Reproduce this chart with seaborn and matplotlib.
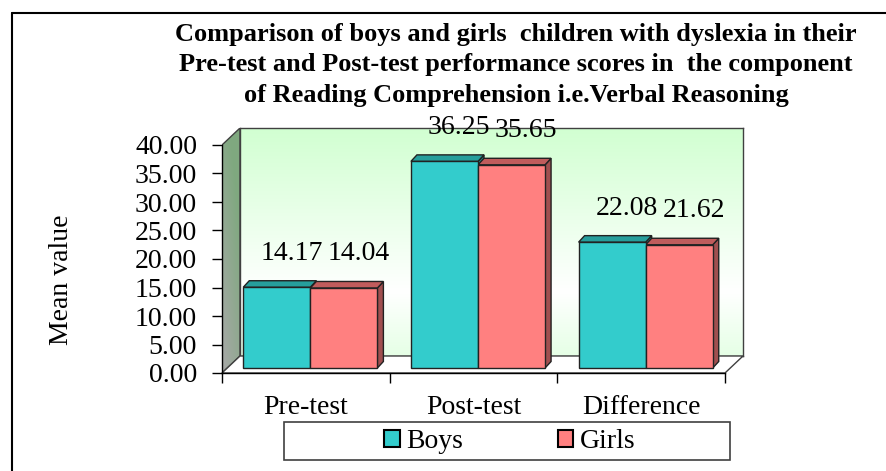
import numpy as np
import pandas as pd
import matplotlib
matplotlib.use("Agg")
import matplotlib.pyplot as plt
import seaborn as sns
from matplotlib.patches import Polygon, Rectangle, Patch
from matplotlib.lines import Line2D
from matplotlib.transforms import ScaledTranslation

# data
categories = ["Pre-test", "Post-test", "Difference"]
groups = ["Boys", "Girls"]
boys = [14.17, 36.25, 22.08]
girls = [14.04, 35.65, 21.62]
y_ticks = [0, 5, 10, 15, 20, 25, 30, 35, 40]

title = ("Comparison of boys and girls  children with dyslexia in their\n"
         "Pre-test and Post-test performance scores in  the component\n"
         "of Reading Comprehension i.e.Verbal Reasoning")

colors = {"Boys": "#33cccc", "Girls": "#ff8080"}
top_colors = {"Boys": "#269e9c", "Girls": "#c05c5c"}
side_colors = {"Boys": "#1f8886", "Girls": "#a04f4f"}

df = pd.DataFrame({
    "Test": categories * 2,
    "Group": ["Boys"] * len(boys) + ["Girls"] * len(girls),
    "Mean": boys + girls,
})

W, H = 887, 471
sns.set_theme(style="white")
plt.rcParams["font.family"] = ["Liberation Serif", "DejaVu Serif"]
plt.rcParams["text.color"] = "black"

fig = plt.figure(figsize=(W / 100, H / 100), dpi=100)


def fx(x):
    return x / W


def fy(y):
    return 1 - y / H


# front plane of the plot area (pixels) and wall depth
X0, X1, Y0, Y1 = 222, 725, 373, 145
DX, DY = 18, 17

# left wall
ax_left = fig.add_axes([fx(X0), fy(Y0), fx(DX), (Y0 - Y1 + DY) / H])
ax_left.set_axis_off()
u = np.linspace(0, 1, 20)[None, :]
v = np.linspace(1, 0, 200)[:, None]
t = np.clip(v * 0.8 + u * 0.5, 0, 1)[..., None]
gray = np.array([0.66, 0.66, 0.66])
green = np.array([0.50, 0.66, 0.50])
img = gray * (1 - t) + green * t
poly_left = Polygon([(0, 0), (0, (Y0 - Y1) / (Y0 - Y1 + DY)), (1, 1),
                     (1, DY / (Y0 - Y1 + DY))], closed=True,
                    transform=ax_left.transAxes, fill=False,
                    ec="#404040", lw=1)
im = ax_left.imshow(img, aspect="auto", extent=[0, 1, 0, 1])
im.set_clip_path(poly_left)
ax_left.add_patch(poly_left)

# back wall
ax_back = fig.add_axes([fx(X0 + DX), fy(Y0 - DY), fx(X1 - X0), (Y0 - Y1) / H])
grad_pos = np.linspace(0, 1, 200)[:, None]
light = np.array([0.82, 1.0, 0.82])
white = np.array([1.0, 1.0, 1.0])
w_mix = np.interp(grad_pos, [0, 0.72, 1], [0, 1, 0.45])[..., None]
back_img = light * (1 - w_mix) + white * w_mix
ax_back.imshow(back_img, aspect="auto", extent=[0, 1, 0, 1])
ax_back.set_xticks([])
ax_back.set_yticks([])
for s in ax_back.spines.values():
    s.set_color("#404040")
    s.set_linewidth(1)

# floor
floor = Polygon([(fx(X0), fy(Y0)), (fx(X1), fy(Y0)), (fx(X1 + DX), fy(Y0 - DY)),
                 (fx(X0 + DX), fy(Y0 - DY))], closed=True,
                transform=fig.transFigure, fc="white", ec="#404040", lw=1,
                clip_on=False, zorder=5)
ax_back.add_patch(floor)

# main axes (front plane)
ax = fig.add_axes([fx(X0), fy(Y0), fx(X1 - X0), (Y0 - Y1) / H])
ax.set_facecolor("none")
sns.barplot(data=df, x="Test", y="Mean", hue="Group", order=categories,
            hue_order=groups, palette=colors, width=0.8, saturation=1,
            edgecolor="#222222", linewidth=1, ax=ax, legend=False)
ax.set_xlim(-0.5, 2.5)
ax.set_ylim(0, 40)

# bars sit a little inside the depth of the floor
shift = ScaledTranslation(4.5 / 100, 5 / 100, fig.dpi_scale_trans)
trans = ax.transData + shift
ppx = (X1 - X0) / 3
ppy = (Y0 - Y1) / 40
ddx, ddy = 6 / ppx, 6.5 / ppy

for container, grp in zip(ax.containers, groups):
    for p in container.patches:
        p.set_transform(trans)
        p.set_clip_on(False)
        p.set_zorder(3)
        x, w, h = p.get_x(), p.get_width(), p.get_height()
        top = Polygon([(x, h), (x + w, h), (x + w + ddx, h + ddy), (x + ddx, h + ddy)],
                      closed=True, fc=top_colors[grp], ec="#222222", lw=1,
                      transform=trans, clip_on=False, zorder=2.5)
        side = Polygon([(x + w, 0), (x + w + ddx, ddy), (x + w + ddx, h + ddy), (x + w, h)],
                       closed=True, fc=side_colors[grp], ec="#222222", lw=1,
                       transform=trans, clip_on=False, zorder=2)
        ax.add_patch(side)
        ax.add_patch(top)
        ax.annotate(f"{h:.2f}", xy=(x + w / 2, h), xycoords=trans,
                    xytext=(10.5, 24.5), textcoords="offset points",
                    ha="center", va="center", fontsize=20, color="black")

ax.set_yticks(y_ticks)
ax.set_yticklabels([f"{t:.2f}" for t in y_ticks])
ax.set_xticks([-0.5, 0.5, 1.5, 2.5], minor=True)
ax.tick_params(axis="y", left=True, direction="out", length=7, width=1,
               color="black", pad=11, labelsize=20, labelcolor="black")
ax.tick_params(axis="x", which="major", length=0, pad=16, labelsize=20,
               labelcolor="black")
ax.tick_params(axis="x", which="minor", bottom=True, direction="out",
               length=7, width=1, color="black")
ax.set_xlabel("")
ax.set_ylabel("")
sns.despine(ax=ax, top=True, right=True)
for s in ["left", "bottom"]:
    ax.spines[s].set_color("black")
    ax.spines[s].set_linewidth(1)

fig.text(fx(62), fy(280), "Mean value", rotation=90, ha="center",
         va="center", fontsize=20)
fig.text(fx(516), fy(65), title, ha="center", va="center", fontsize=19,
         fontweight="bold", linespacing=1.42)

# legend
handles = [Patch(fc=colors[g], ec="black", lw=1.5) for g in groups]
fig.legend(handles, groups, loc="center", bbox_to_anchor=(fx(510), fy(442)),
           ncol=2, frameon=False, fontsize=20, handlelength=0.55,
           handleheight=0.55, handletextpad=0.25, columnspacing=3.4)
fig.add_artist(Rectangle((fx(284), fy(460)), fx(730 - 284), (460 - 422) / H,
                         transform=fig.transFigure, fill=False, ec="#404040",
                         lw=1.2))

# outer frame (only top and left edges are visible)
fig.add_artist(Line2D([fx(12), 1], [fy(13), fy(13)], color="black", lw=1.5))
fig.add_artist(Line2D([fx(12), fx(12)], [fy(13), 0], color="black", lw=1.5))

fig.savefig("out.png", dpi=100, facecolor="white")
